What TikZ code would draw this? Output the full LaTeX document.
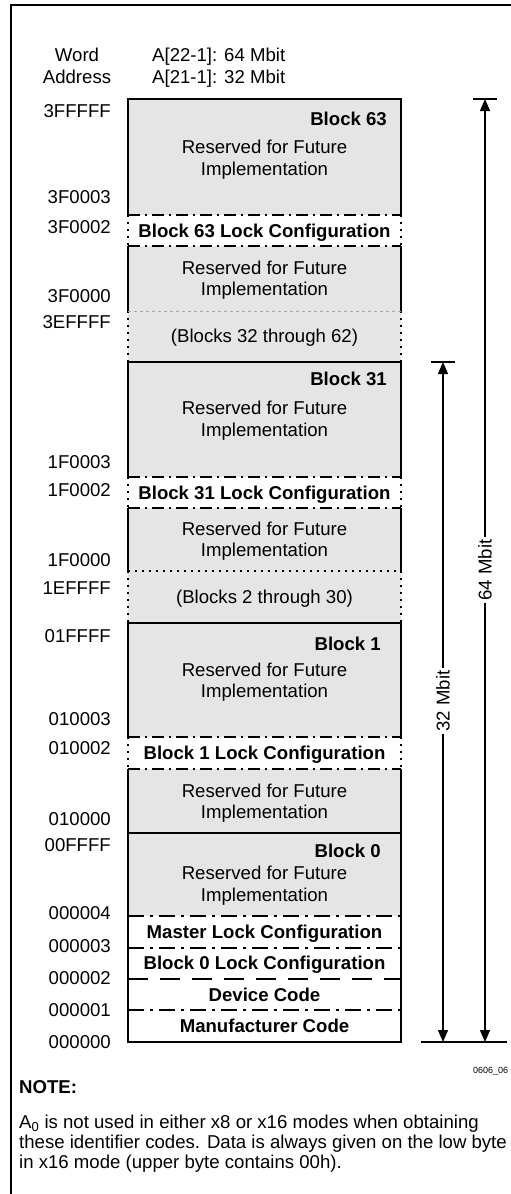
\documentclass[tikz,border=0pt]{standalone}
\usepackage{fontspec}
\setmainfont{Liberation Sans}
\usetikzlibrary{arrows.meta}
\definecolor{fillgray}{HTML}{E5E5E5}
\definecolor{dotgray}{HTML}{A8A8A8}
\tikzset{
  txt/.style={font=\fontsize{18.6}{21.5}\selectfont, inner sep=0pt},
  lbl/.style={txt, text height=13.3pt, text depth=0pt},
  addr/.style={lbl, anchor=east},
  bold/.style={lbl, font=\fontsize{18.6}{21.5}\selectfont\bfseries},
  blk/.style={bold, anchor=east},
  resv/.style={txt, align=center},
  solidln/.style={line width=1.6pt},
  dashdotA/.style={line width=1.6pt, dash pattern=on 12pt off 5pt on 2pt off 5pt},
  dashdotB/.style={line width=1.6pt, dash pattern=on 16pt off 6pt on 3pt off 6pt},
  dashedB/.style={line width=1.6pt, dash pattern=on 20pt off 12pt},
  sidedot/.style={line width=1.6pt, dash pattern=on 2pt off 5pt},
  graydash/.style={line width=0.8pt, draw=dotgray, dash pattern=on 3pt off 3pt},
  blackdot/.style={line width=1.5pt, dash pattern=on 2pt off 5pt},
  arr/.style={line width=1.3pt, -{Triangle[width=10pt,length=12pt]}},
  bar/.style={line width=1.6pt},
}
\begin{document}
\begin{tikzpicture}[x=1pt,y=-1pt]
\useasboundingbox (0,0) rectangle (511,1194);
% frame
\draw[line width=2pt] (11,1210) -- (11,5) -- (530,5);

% fills
\fill[fillgray] (128,99) rectangle (401,215);
\fill[white]    (128,215) rectangle (401,246);
\fill[fillgray] (128,246) rectangle (401,362);
\fill[fillgray] (128,362) rectangle (401,477);
\fill[white]    (128,477) rectangle (401,508);
\fill[fillgray] (128,508) rectangle (401,623);
\fill[fillgray] (128,623) rectangle (401,737);
\fill[white]    (128,737) rectangle (401,769);
\fill[fillgray] (128,769) rectangle (401,916);
\fill[white]    (128,916) rectangle (401,1042);

% solid sides
\foreach \a/\b in {99/215, 246/311, 362/477, 508/571, 623/737, 769/1042}{
  \draw[solidln] (128,\a) -- (128,\b);
  \draw[solidln] (401,\a) -- (401,\b);
}
% dotted sides
\foreach \a/\b in {215/246, 311/362, 477/508, 571/623, 737/769}{
  \draw[sidedot] (128,\a) -- (128,\b);
  \draw[sidedot] (401,\a) -- (401,\b);
}
% horizontals
\foreach \y in {99, 362, 623, 833, 1042}{
  \draw[solidln] (127.2,\y) -- (401.8,\y);
}
\foreach \y in {215, 246, 477, 508, 737, 769}{
  \draw[dashdotA] (128,\y) -- (401,\y);
}
\foreach \y in {916, 948, 1010}{
  \draw[dashdotB] (128,\y) -- (401,\y);
}
\draw[dashedB] (128,979) -- (401,979);
\draw[graydash] (128,311) -- (401,311);
\draw[blackdot] (128,571) -- (401,571);

% header
\node[txt, align=center, font=\fontsize{18.6}{22}\selectfont] (word) at (77,66) {Word\\Address};
\node[txt, align=left, anchor=west, font=\fontsize{18.6}{22}\selectfont] (abits) at (152,68) {A[22-1]: 64 Mbit\\A[21-1]: 32 Mbit};

% addresses
\node[addr] (a1) at (111,111) {3FFFFF};
\node[addr] (a2) at (111,197) {3F0003};
\node[addr] (a3) at (111,227) {3F0002};
\node[addr] (a4) at (111,296) {3F0000};
\node[addr] (a5) at (111,322) {3EFFFF};
\node[addr] (a6) at (111,462) {1F0003};
\node[addr] (a7) at (111,490) {1F0002};
\node[addr] (a8) at (111,560) {1F0000};
\node[addr] (a9) at (111,588) {1EFFFF};
\node[addr] (a10) at (111,636) {01FFFF};
\node[addr] (a11) at (111,719) {010003};
\node[addr] (a12) at (111,748) {010002};
\node[addr] (a13) at (111,819) {010000};
\node[addr] (a14) at (111,845) {00FFFF};
\node[addr] (a15) at (111,913) {000004};
\node[addr] (a16) at (111,946) {000003};
\node[addr] (a17) at (111,978) {000002};
\node[addr] (a18) at (111,1010) {000001};
\node[addr] (a19) at (111,1042) {000000};

% block labels
\node[blk] (b63) at (387,119) {Block 63};
\node[blk] (b31) at (387,379) {Block 31};
\node[blk] (b1) at (381,644) {Block 1};
\node[blk] (b0) at (381,851) {Block 0};

% reserved
\node[resv] (r1) at (264.5,159.5) {Reserved for Future\\Implementation};
\node[resv] (r2) at (264.5,280) {Reserved for Future\\Implementation};
\node[resv] (r3) at (264.5,420.5) {Reserved for Future\\Implementation};
\node[resv] (r4) at (264.5,541) {Reserved for Future\\Implementation};
\node[resv] (r5) at (264.5,682) {Reserved for Future\\Implementation};
\node[resv] (r6) at (264.5,803) {Reserved for Future\\Implementation};
\node[resv] (r7) at (264.5,885.5) {Reserved for Future\\Implementation};

% ranges
\node[lbl] (g1) at (264.5,336) {(Blocks 32 through 62)};
\node[lbl] (g2) at (264.5,597) {(Blocks 2 through 30)};

% lock configs
\node[bold] (l63) at (264.5,230.5) {Block 63 Lock Configuration};
\node[bold] (l31) at (264.5,492.5) {Block 31 Lock Configuration};
\node[bold] (l1) at (264.5,753) {Block 1 Lock Configuration};
\node[bold] (lm) at (264.5,932) {Master Lock Configuration};
\node[bold] (l0) at (264.5,963) {Block 0 Lock Configuration};
\node[bold] (dc) at (264.5,994.5) {Device Code};
\node[bold] (mc) at (264.5,1026) {Manufacturer Code};

% size arrows
\coordinate (t64) at (485,99);
\coordinate (b64) at (485,1042);
\coordinate (t32) at (443,362);
\coordinate (b32) at (443,1042);
\coordinate (bar64l) at (473,99);
\coordinate (bar64r) at (497,99);
\coordinate (bar32l) at (431,362);
\coordinate (bar32r) at (455,362);
\coordinate (basel) at (421,1042);
\coordinate (baser) at (507,1042);
\draw[bar] (bar64l) -- (bar64r);
\draw[bar] (bar32l) -- (bar32r);
\draw[bar] (basel) -- (baser);
\node[lbl, rotate=90, inner sep=2pt] (m64) at (485,570) {64 Mbit};
\node[lbl, rotate=90, inner sep=2pt] (m32) at (443,701) {32 Mbit};
\draw[arr] (m64) -- (t64);
\draw[arr] (m64) -- (b64);
\draw[arr] (m32) -- (t32);
\draw[arr] (m32) -- (b32);

% figure id and note
\node[font=\fontsize{9}{10}\selectfont, inner sep=0pt, text height=6.5pt, text depth=0pt, anchor=west] (fig) at (473,1070) {0606\_06};
\node[bold, anchor=west] (note) at (19,1087) {NOTE:};
\node[txt, font=\fontsize{18.6}{20}\selectfont, align=left, anchor=north west] (notetext) at (19,1115) {A\textsubscript{0} is not used in either x8 or x16 modes when obtaining\\these identifier codes. Data is always given on the low byte\\in x16 mode (upper byte contains 00h).};
\end{tikzpicture}
\end{document}
